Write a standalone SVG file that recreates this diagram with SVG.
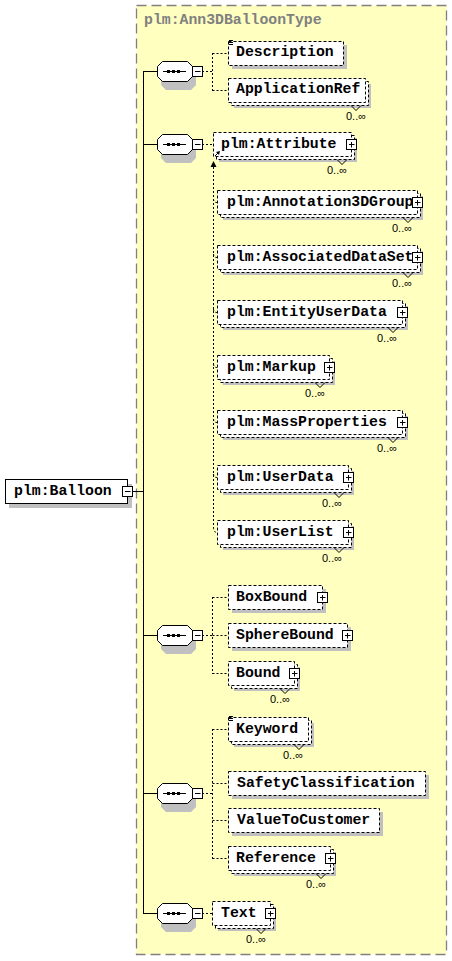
<svg xmlns="http://www.w3.org/2000/svg" xmlns:xlink="http://www.w3.org/1999/xlink" width="452" height="961" viewBox="0 0 452 961">
<style>
.bg{fill:#ffffc0;stroke:#808080;stroke-width:1.3;stroke-dasharray:10 5}
.sh{fill:#c0c0c0}
.box{fill:#fff;stroke:#000;stroke-dasharray:3 2}
.solid{fill:#fff;stroke:#000}
.btn{fill:#fff;stroke:#000}
.t{font-family:"Liberation Mono","Courier New",monospace;font-weight:bold;font-size:14.8px;fill:#000}
.title{fill:#808080}
.occ{font-family:"Liberation Sans",Arial,sans-serif;font-size:11px;fill:#000}
.con{fill:none;stroke:#000;stroke-dasharray:2 2}
.ln{fill:none;stroke:#000}
.vn{fill:none;stroke:#000}
</style>
<defs>
<g id="plus"><rect x="-4.5" y="-4.5" width="10" height="10" class="btn"/><path d="M-2,0.5H3.5M0.5,-2V3.5" stroke="#000"/></g>
<g id="minus"><rect x="-4.5" y="-4.5" width="10" height="10" class="btn"/><path d="M-2,0.5H3.5" stroke="#000"/></g>
<g id="seq">
<path d="M161,-6 L166,-1 H191 L196,4 V14 L191,19 H166 L161,14 Z" class="sh"/>
<path d="M157.5,-4.5 L162.5,-9.5 H187.5 L192.5,-4.5 V5.5 L187.5,10.5 H162.5 L157.5,5.5 Z" fill="#fff" stroke="#000"/>
<path d="M163,0.5 H186" stroke="#000"/>
<rect x="167" y="-1" width="3" height="3" fill="#000"/>
<rect x="172" y="-1" width="3" height="3" fill="#000"/>
<rect x="177" y="-1" width="3" height="3" fill="#000"/>
<use xlink:href="#minus" x="197" y="0"/>
</g>
<g id="doc"><path d="M229,40.5H233M229,42.5H233M229,44.5H233" stroke="#000"/></g>
</defs>

<g id="container">
<rect class="bg" x="136.5" y="5.5" width="310" height="949"/>
<text class="t title" x="144" y="24">plm:Ann3DBalloonType</text>
</g>

<g id="connectors">
<path class="ln" d="M132,491.5H143.5M143.5,71V914M143,71.5H157M143,144.5H157M143,635.5H157M143,793.5H157M143,913.5H157"/>
<path class="con" d="M202,71.5H212.5M212.5,53V91M212.5,53.5H228M212.5,90.5H228"/>
<path class="con" d="M202,144.5H213"/>
<path class="con" d="M213.5,167V527 Q213.5,532.5 217,532.5"/>
<path class="con" d="M213.5,199 Q213.5,202.5 217,202.5M213.5,254 Q213.5,257.5 217,257.5M213.5,309 Q213.5,312.5 217,312.5M213.5,364 Q213.5,367.5 217,367.5M213.5,419 Q213.5,422.5 217,422.5M213.5,474 Q213.5,477.5 217,477.5"/>
<path d="M213.5,161 L210.5,167 H216.5 Z" fill="#000"/>
<path class="con" d="M202,635.5H212.5M212.5,597V674M212.5,597.5H228M212.5,635.5H228M212.5,673.5H228"/>
<path class="con" d="M202,793.5H212.5M212.5,729V859M212.5,729.5H228M212.5,783.5H228M212.5,820.5H228M212.5,858.5H228"/>
<path class="con" d="M202,913.5H212"/>
</g>

<g id="root">
<rect class="sh" x="9" y="484" width="123" height="24"/>
<rect class="solid" x="5.5" y="479.5" width="122" height="24"/>
<text class="t" x="14" y="495">plm:Balloon</text>
<use xlink:href="#minus" x="127" y="491"/>
</g>

<g id="seq1"><use xlink:href="#seq" x="0" y="71"/></g>
<g id="seq2"><use xlink:href="#seq" x="0" y="144"/></g>
<g id="seq3"><use xlink:href="#seq" x="0" y="635"/></g>
<g id="seq4"><use xlink:href="#seq" x="0" y="793"/></g>
<g id="seq5"><use xlink:href="#seq" x="0" y="913"/></g>

<g id="Description">
<rect class="sh" x="232" y="45" width="115" height="24"/>
<rect class="box" x="228.5" y="41.5" width="115" height="24"/>
<use xlink:href="#doc" x="0" y="0"/>
<text class="t" x="236" y="56">Description</text>
</g>

<g id="ApplicationRef">
<rect class="sh" x="234" y="84" width="137" height="24"/>
<rect class="box" x="231.5" y="81.5" width="137" height="24"/>
<rect class="box" x="228.5" y="78.5" width="137" height="24"/>
<path class="vn" d="M351,105.5 L356,110.5 L361,105.5"/>
<text class="t" x="236" y="93">ApplicationRef</text>
<text class="occ" x="346" y="120">0..∞</text>
</g>

<g id="Attribute">
<rect class="sh" x="219" y="138" width="138" height="24"/>
<rect class="box" x="216.5" y="135.5" width="138" height="24"/>
<rect class="box" x="213.5" y="132.5" width="138" height="24"/>
<path class="vn" d="M337,159.5 L342,164.5 L347,159.5"/>
<path d="M215,156 L219,152" stroke="#000"/>
<path d="M220,151 L216,152 L219,155 Z" fill="#000"/>
<text class="t" x="221" y="148">plm:Attribute</text>
<use xlink:href="#plus" x="351" y="144"/>
<text class="occ" x="327" y="174">0..∞</text>
</g>

<g id="Annotation3DGroup">
<rect class="sh" x="223" y="196" width="200" height="24"/>
<rect class="box" x="220.5" y="193.5" width="200" height="24"/>
<rect class="box" x="217.5" y="190.5" width="200" height="24"/>
<path class="vn" d="M403,217.5 L408,222.5 L413,217.5"/>
<text class="t" x="227" y="206">plm:Annotation3DGroup</text>
<use xlink:href="#plus" x="417" y="202"/>
<text class="occ" x="392" y="232">0..∞</text>
</g>

<g id="AssociatedDataSet">
<rect class="sh" x="223" y="251" width="200" height="24"/>
<rect class="box" x="220.5" y="248.5" width="200" height="24"/>
<rect class="box" x="217.5" y="245.5" width="200" height="24"/>
<path class="vn" d="M403,272.5 L408,277.5 L413,272.5"/>
<text class="t" x="227" y="261">plm:AssociatedDataSet</text>
<use xlink:href="#plus" x="417" y="257"/>
<text class="occ" x="392" y="287">0..∞</text>
</g>

<g id="EntityUserData">
<rect class="sh" x="223" y="306" width="185" height="24"/>
<rect class="box" x="220.5" y="303.5" width="185" height="24"/>
<rect class="box" x="217.5" y="300.5" width="185" height="24"/>
<path class="vn" d="M388,327.5 L393,332.5 L398,327.5"/>
<text class="t" x="227" y="316">plm:EntityUserData</text>
<use xlink:href="#plus" x="402" y="312"/>
<text class="occ" x="377" y="342">0..∞</text>
</g>

<g id="Markup">
<rect class="sh" x="223" y="361" width="112" height="24"/>
<rect class="box" x="220.5" y="358.5" width="112" height="24"/>
<rect class="box" x="217.5" y="355.5" width="112" height="24"/>
<path class="vn" d="M315,382.5 L320,387.5 L325,382.5"/>
<text class="t" x="227" y="371">plm:Markup</text>
<use xlink:href="#plus" x="329" y="367"/>
<text class="occ" x="305" y="397">0..∞</text>
</g>

<g id="MassProperties">
<rect class="sh" x="223" y="416" width="185" height="24"/>
<rect class="box" x="220.5" y="413.5" width="185" height="24"/>
<rect class="box" x="217.5" y="410.5" width="185" height="24"/>
<path class="vn" d="M388,437.5 L393,442.5 L398,437.5"/>
<text class="t" x="227" y="426">plm:MassProperties</text>
<use xlink:href="#plus" x="402" y="422"/>
<text class="occ" x="377" y="452">0..∞</text>
</g>

<g id="UserData">
<rect class="sh" x="223" y="471" width="131" height="24"/>
<rect class="box" x="220.5" y="468.5" width="131" height="24"/>
<rect class="box" x="217.5" y="465.5" width="131" height="24"/>
<path class="vn" d="M334,492.5 L339,497.5 L344,492.5"/>
<text class="t" x="227" y="481">plm:UserData</text>
<use xlink:href="#plus" x="348" y="477"/>
<text class="occ" x="322" y="507">0..∞</text>
</g>

<g id="UserList">
<rect class="sh" x="223" y="526" width="131" height="24"/>
<rect class="box" x="220.5" y="523.5" width="131" height="24"/>
<rect class="box" x="217.5" y="520.5" width="131" height="24"/>
<path class="vn" d="M334,547.5 L339,552.5 L344,547.5"/>
<text class="t" x="227" y="536">plm:UserList</text>
<use xlink:href="#plus" x="348" y="532"/>
<text class="occ" x="322" y="562">0..∞</text>
</g>

<g id="BoxBound">
<rect class="sh" x="232" y="589" width="94" height="24"/>
<rect class="box" x="228.5" y="585.5" width="94" height="24"/>
<text class="t" x="236" y="601">BoxBound</text>
<use xlink:href="#plus" x="322" y="597"/>
</g>

<g id="SphereBound">
<rect class="sh" x="232" y="627" width="119" height="24"/>
<rect class="box" x="228.5" y="623.5" width="119" height="24"/>
<text class="t" x="236" y="639">SphereBound</text>
<use xlink:href="#plus" x="347" y="635"/>
</g>

<g id="Bound">
<rect class="sh" x="234" y="667" width="66" height="24"/>
<rect class="box" x="231.5" y="664.5" width="66" height="24"/>
<rect class="box" x="228.5" y="661.5" width="66" height="24"/>
<path class="vn" d="M280,688.5 L285,693.5 L290,688.5"/>
<text class="t" x="236" y="677">Bound</text>
<use xlink:href="#plus" x="294" y="673"/>
<text class="occ" x="270" y="703">0..∞</text>
</g>

<g id="Keyword">
<rect class="sh" x="234" y="723" width="80" height="24"/>
<rect class="box" x="231.5" y="720.5" width="80" height="24"/>
<rect class="box" x="228.5" y="717.5" width="80" height="24"/>
<path class="vn" d="M294,744.5 L299,749.5 L304,744.5"/>
<use xlink:href="#doc" x="0" y="676"/>
<text class="t" x="236" y="733">Keyword</text>
<text class="occ" x="283" y="759">0..∞</text>
</g>

<g id="SafetyClassification">
<rect class="sh" x="232" y="775" width="197" height="24"/>
<rect class="box" x="228.5" y="771.5" width="197" height="24"/>
<text class="t" x="237" y="787">SafetyClassification</text>
</g>

<g id="ValueToCustomer">
<rect class="sh" x="232" y="812" width="151" height="24"/>
<rect class="box" x="228.5" y="808.5" width="151" height="24"/>
<text class="t" x="237" y="824">ValueToCustomer</text>
</g>

<g id="Reference">
<rect class="sh" x="234" y="852" width="102" height="24"/>
<rect class="box" x="231.5" y="849.5" width="102" height="24"/>
<rect class="box" x="228.5" y="846.5" width="102" height="24"/>
<path class="vn" d="M316,873.5 L321,878.5 L326,873.5"/>
<text class="t" x="236" y="862">Reference</text>
<use xlink:href="#plus" x="330" y="858"/>
<text class="occ" x="306" y="888">0..∞</text>
</g>

<g id="Text">
<rect class="sh" x="218" y="907" width="58" height="24"/>
<rect class="box" x="215.5" y="904.5" width="58" height="24"/>
<rect class="box" x="212.5" y="901.5" width="58" height="24"/>
<path class="vn" d="M256,928.5 L261,933.5 L266,928.5"/>
<text class="t" x="221" y="917">Text</text>
<use xlink:href="#plus" x="270" y="913"/>
<text class="occ" x="246" y="943">0..∞</text>
</g>
</svg>
